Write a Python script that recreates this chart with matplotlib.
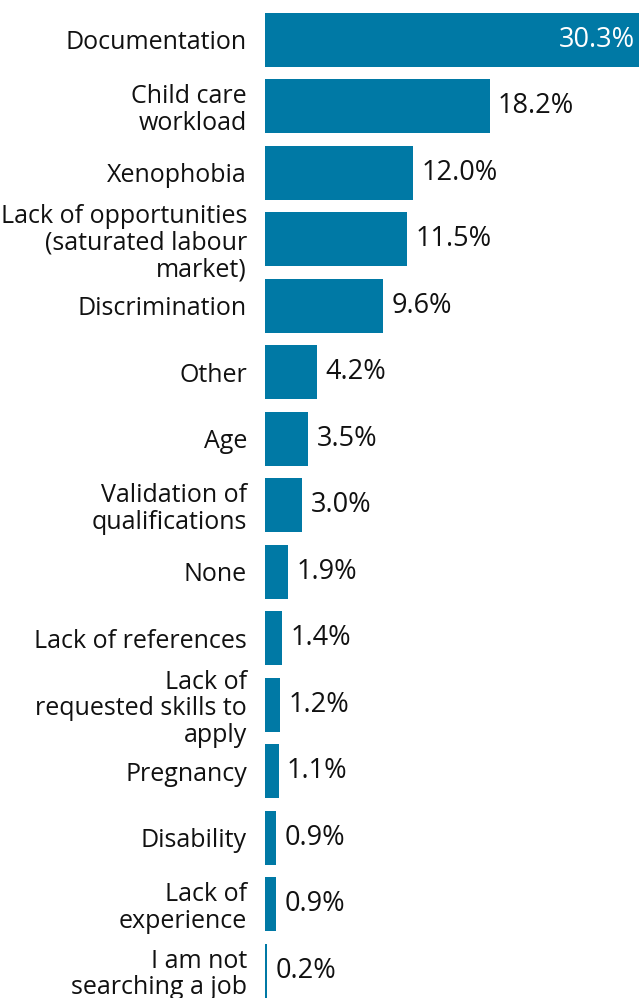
"""
Barriers to finding a job - horizontal bar chart.
"""

import matplotlib.pyplot as plt

# Data
categories = [
    "Documentation",
    "Child care\nworkload",
    "Xenophobia",
    "Lack of opportunities\n(saturated labour\nmarket)",
    "Discrimination",
    "Other",
    "Age",
    "Validation of\nqualifications",
    "None",
    "Lack of references",
    "Lack of\nrequested skills to\napply",
    "Pregnancy",
    "Disability",
    "Lack of\nexperience",
    "I am not\nsearching a job",
]
values = [30.3, 18.2, 12.0, 11.5, 9.6, 4.2, 3.5, 3.0, 1.9, 1.4, 1.2, 1.1, 0.9, 0.9, 0.2]

bar_color = "#0079A5"
plt.rcParams["font.family"] = ["Open Sans", "DejaVu Sans"]

fig = plt.figure(figsize=(6.39, 9.98), dpi=100)
ax = fig.add_axes([265 / 639, 0, 1 - 265 / 639, 1])

pos = list(range(len(values)))
ax.barh(pos, values, height=0.81, color=bar_color)

ax.set_xlim(0, max(values))
ax.set_ylim(14.41, -0.60)

ax.set_yticks(pos)
ax.set_yticklabels(categories, fontsize=18, linespacing=1.08, color="#111111")
ax.tick_params(axis="y", length=0, pad=13)
ax.set_xticks([])
for s in ax.spines.values():
    s.set_visible(False)

# value labels
for i, v in enumerate(values):
    label = f"{v:.1f}%"
    if i == 0:
        ax.annotate(label, (v, i), xytext=(-3, 0), textcoords="offset points",
                    ha="right", va="center", fontsize=19.5, color="white")
    else:
        ax.annotate(label, (v, i), xytext=(6, 0), textcoords="offset points",
                    ha="left", va="center", fontsize=19.5, color="#111111")

plt.savefig("out.png", dpi=100)
